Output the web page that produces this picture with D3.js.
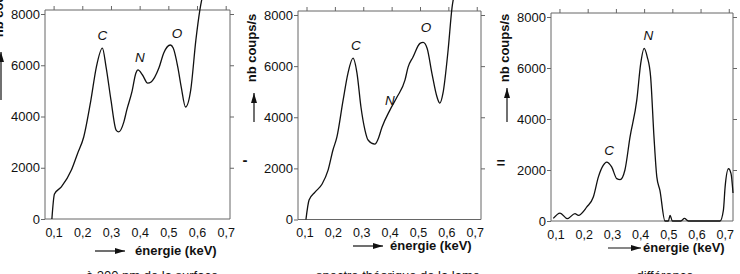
<!DOCTYPE html>
<html>
<head>
<meta charset="utf-8">
<title>Spectres</title>
<script src="https://d3js.org/d3.v7.min.js"></script>
<style>
  body { margin:0; background:#fff; }
  svg { display:block; font-family:"Liberation Sans", Arial, sans-serif; }
</style>
</head>
<body>
<div id="chart"></div>
<script>
// axes
var ticksX = [0.1, 0.2, 0.3, 0.4, 0.5, 0.6, 0.7];
var ticksXLabels = ["0,1", "0,2", "0,3", "0,4", "0,5", "0,6", "0,7"];
var ticksY = [0, 2000, 4000, 6000, 8000];

// spectre 1 : mesuré à 200 nm
var energie1 = [0.094, 0.103, 0.127, 0.162, 0.183, 0.205, 0.23, 0.249, 0.27, 0.283, 0.30, 0.318, 0.327, 0.345, 0.355, 0.373, 0.387, 0.394, 0.41, 0.428, 0.44, 0.467, 0.484, 0.507, 0.517, 0.533, 0.545, 0.56, 0.578, 0.596, 0.61, 0.625];
var coups1 = [0, 975, 1250, 1910, 2540, 3200, 4640, 5930, 6670, 5930, 4640, 3470, 3400, 3790, 4250, 4960, 5700, 5820, 5620, 5300, 5350, 5890, 6480, 6790, 6670, 5930, 5150, 4370, 5030, 6980, 8160, 9000];

// spectre 2
var energie2 = [0.098, 0.109, 0.13, 0.155, 0.176, 0.193, 0.207, 0.229, 0.246, 0.264, 0.278, 0.292, 0.306, 0.317, 0.341, 0.352, 0.366, 0.394, 0.419, 0.447, 0.458, 0.475, 0.5, 0.511, 0.525, 0.542, 0.56, 0.57, 0.581, 0.599, 0.613, 0.625];
var coups2 = [0, 760, 1070, 1390, 1930, 2710, 3220, 4670, 5720, 6310, 5720, 4390, 3500, 3110, 2950, 3140, 3610, 4280, 4790, 5450, 5960, 6350, 6890, 6930, 6700, 5720, 4790, 4550, 4940, 6620, 8300, 9000];

// différence
var energie3 = [0.078, 0.102, 0.128, 0.155, 0.167, 0.197, 0.22, 0.238, 0.255, 0.267, 0.285, 0.303, 0.315, 0.332, 0.35, 0.374, 0.388, 0.4, 0.411, 0.423, 0.435, 0.445, 0.456, 0.474, 0.486, 0.492, 0.5, 0.53, 0.543, 0.557, 0.669, 0.681, 0.687, 0.699, 0.708, 0.715];
var coups3 = [100, 310, 90, 290, 220, 550, 940, 1730, 2180, 2310, 2120, 1660, 1620, 2000, 3290, 4740, 6180, 6770, 6440, 5660, 3290, 1730, 1200, 0, 0, 220, 0, 0, 100, 0, 0, 430, 1330, 2050, 1860, 1100];

// pics
var pics1 = ["C", "N", "O"], picsE1 = [0.27, 0.401, 0.53], picsC1 = [7180, 6320, 7260];
var pics2 = ["C", "N", "O"], picsE2 = [0.274, 0.394, 0.521], picsC2 = [6815, 4670, 7520];
var pics3 = ["N", "C"], picsE3 = [0.415, 0.276], picsC3 = [7290, 2770];

var legendes = ["à 200 nm de la surface", "spectre théorique de la lame", "différence"];

var panels = [
  {left: 45, right: 230, bottom: 219, top: 14, xs: energie1, ys: coups1, pics: pics1, pe: picsE1, pc: picsC1, labelY: 3, arrowY: [52, 100], dxLab: 0, capX: 152},
  {left: 298, right: 481, bottom: 219.5, top: 15, xs: energie2, ys: coups2, pics: pics2, pe: picsE2, pc: picsC2, labelY: 48, arrowY: [93, 122], dxLab: -2, capX: 398},
  {left: 551, right: 733, bottom: 221, top: 17, xs: energie3, ys: coups3, pics: pics3, pe: picsE3, pc: picsC3, labelY: 48, arrowY: [88, 122], dxLab: -4, capX: 665}
];
var arrowsX = [[95, 125, 251], [353, 383, 246], [608, 641, 248]];
var titleX = [135, 390, 643];
var titleY = [255, 250, 252];

var W = 740, H = 274;
var svg = d3.select("#chart").append("svg").attr("width", W).attr("height", H);

var defs = svg.append("defs");
defs.append("marker").attr("id", "tete")
  .attr("viewBox", "0 0 10 6").attr("refX", 10).attr("refY", 3)
  .attr("markerWidth", 10).attr("markerHeight", 6)
  .attr("markerUnits", "userSpaceOnUse").attr("orient", "auto")
  .append("path").attr("d", "M0,0 L10,3 L0,6 Z").attr("fill", "#111");

var axisColor = "#666";

panels.forEach(function (p, i) {
  var x = d3.scaleLinear().domain([0.07, 0.715]).range([p.left, p.right]);
  var y = d3.scaleLinear().domain([0, 8000]).range([p.bottom, p.top]);
  var frameTop = p.top - 4;
  var g = svg.append("g");

  // cadre
  g.append("path")
    .attr("d", "M" + p.left + "," + p.bottom + "V" + frameTop + "H" + p.right + "V" + p.bottom + "H" + p.left)
    .attr("fill", "none").attr("stroke", axisColor).attr("stroke-width", 1);

  var ax = g.append("g").attr("transform", "translate(" + p.left + ",0)")
    .call(d3.axisLeft(y).tickValues(ticksY).tickSize(4).tickSizeOuter(0).tickPadding(1)
      .tickFormat(d3.format("d")));
  ax.selectAll("text").attr("font-size", 13).attr("fill", "#111");

  g.append("g").attr("transform", "translate(" + p.right + ",0)")
    .call(d3.axisRight(y).tickValues(ticksY.slice(1)).tickSize(4).tickSizeOuter(0).tickFormat(""));

  g.append("g").attr("transform", "translate(0," + frameTop + ")")
    .call(d3.axisTop(x).tickValues(ticksX).tickSize(4).tickSizeOuter(0).tickFormat(""));

  var bx = g.append("g").attr("transform", "translate(0," + p.bottom + ")")
    .call(d3.axisBottom(x).tickValues(ticksX).tickSize(0).tickSizeOuter(0).tickPadding(9)
      .tickFormat(function (d, k) { return ticksXLabels[k]; }));
  bx.selectAll("text").attr("font-size", 12.5).attr("fill", "#111").attr("dx", p.dxLab);

  g.selectAll(".tick line").attr("stroke", axisColor);
  g.selectAll(".domain").remove();

  // courbe
  var line = d3.line().x(function (d) { return x(d[0]); }).y(function (d) { return y(d[1]); })
    .curve(d3.curveMonotoneX);
  g.append("path").datum(d3.zip(p.xs, p.ys))
    .attr("d", line).attr("fill", "none").attr("stroke", "#111").attr("stroke-width", 1.3);

  // pics
  g.selectAll(".pic").data(p.pics).enter().append("text")
    .attr("x", function (d, k) { return x(p.pe[k]); })
    .attr("y", function (d, k) { return y(p.pc[k]); })
    .attr("dy", "0.35em").attr("text-anchor", "middle")
    .attr("font-size", 13.5).attr("font-style", "italic").attr("fill", "#111")
    .text(function (d) { return d; });

  // titre axe y
  var lx = p.left - 44;
  g.append("text").attr("transform", "translate(" + (lx + 2) + "," + p.labelY + ") rotate(-90)")
    .attr("text-anchor", "middle").attr("font-size", 13).attr("font-weight", "bold").attr("fill", "#111")
    .text("nb coups/s");
  g.append("line").attr("x1", lx).attr("x2", lx).attr("y1", p.arrowY[1]).attr("y2", p.arrowY[0])
    .attr("stroke", "#111").attr("stroke-width", 1.2).attr("marker-end", "url(#tete)");

  // titre axe x
  var a = arrowsX[i];
  g.append("line").attr("x1", a[0]).attr("x2", a[1]).attr("y1", a[2]).attr("y2", a[2])
    .attr("stroke", "#111").attr("stroke-width", 1.2).attr("marker-end", "url(#tete)");
  g.append("text").attr("x", titleX[i]).attr("y", titleY[i])
    .attr("font-size", 13).attr("font-weight", "bold").attr("fill", "#111")
    .text("énergie (keV)");

  // légende (coupée en bas, comme sur l'original)
  g.append("text").attr("x", p.capX).attr("y", 280).attr("text-anchor", "middle")
    .attr("font-size", 13).attr("fill", "#111").text(legendes[i]);
});

// opérateurs
svg.append("text").attr("x", 245).attr("y", 165).attr("text-anchor", "middle")
  .attr("font-size", 15).attr("font-weight", "bold").attr("fill", "#111").text("-");
svg.append("text").attr("x", 501).attr("y", 168).attr("text-anchor", "middle")
  .attr("font-size", 15).attr("font-weight", "bold").attr("fill", "#111").text("=");
</script>
</body>
</html>
